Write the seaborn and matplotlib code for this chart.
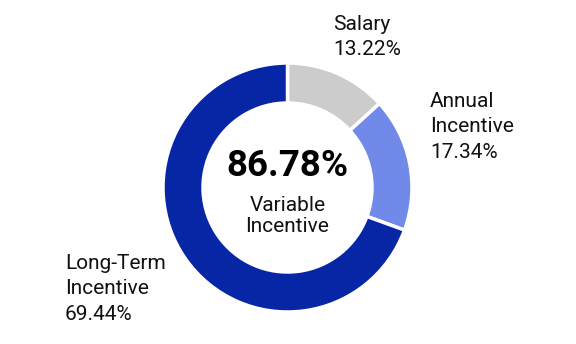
import matplotlib
matplotlib.use("Agg")
import matplotlib.pyplot as plt
import seaborn as sns

categories = ["Salary", "Annual\nIncentive", "Long-Term\nIncentive"]
values = [13.22, 17.34, 69.44]
colors = ["#CCCCCC", "#7189E8", "#0626A6"]
center_value = "86.78%"
center_label = "Variable\nIncentive"

sns.set_theme(style="white")
plt.rcParams["font.family"] = ["Roboto", "DejaVu Sans"]

W, H = 576, 344
fig = plt.figure(figsize=(W / 100, H / 100), dpi=100)
ax = fig.add_axes([0, 0, 1, 1])
cx, cy = 287.5, H - 187.5
R = 124.5
ax.pie(values, colors=colors, startangle=90, counterclock=False,
       center=(cx, cy), radius=R,
       wedgeprops=dict(width=40, edgecolor="white", linewidth=2.5))
ax.set_xlim(0, W)
ax.set_ylim(0, H)
ax.set_aspect("auto")
ax.axis("off")

fs = 15
label_pos = [(333, H - 37), (430, H - 127), (65, H - 289)]
for cat, v, (x, y) in zip(categories, values, label_pos):
    ax.text(x, y, f"{cat}\n{v:.2f}%", ha="left", va="center", fontsize=fs,
            color="#111111", linespacing=1.42)

ax.text(cx, H - 166, center_value, ha="center", va="center", fontsize=26.5,
        fontweight="bold", color="#000000")
ax.text(cx, H - 216, center_label, ha="center", va="center", fontsize=15,
        color="#111111", linespacing=1.15)

fig.savefig("out.png", dpi=100)
